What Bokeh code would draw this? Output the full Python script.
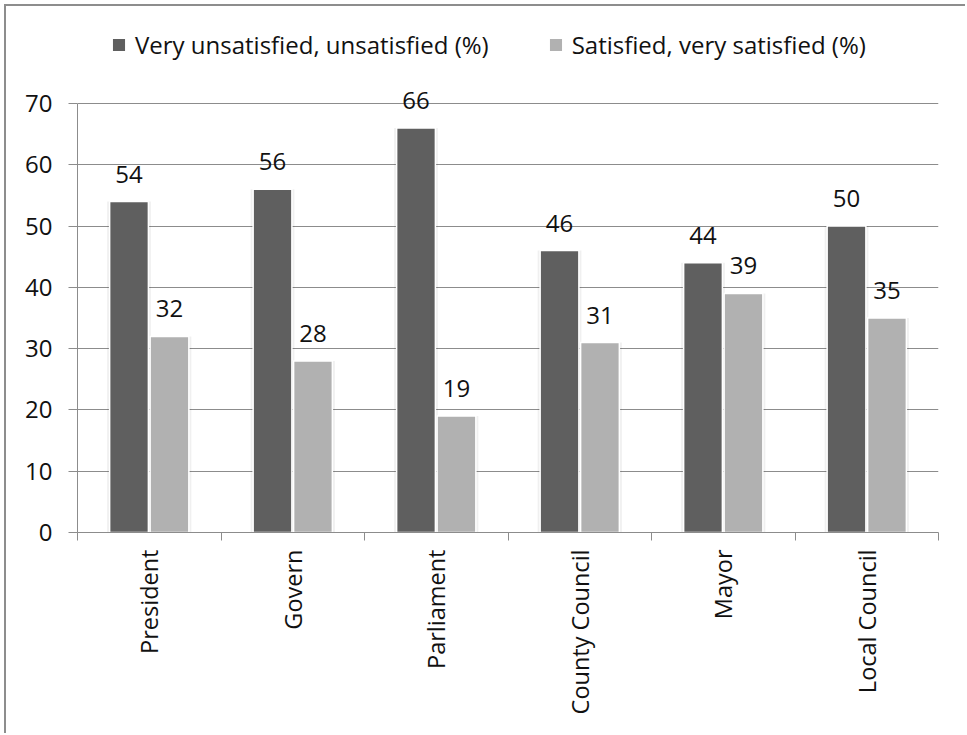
import numpy as np
from bokeh.plotting import figure
from bokeh.models import (ColumnDataSource, Range1d, FixedTicker, LabelSet,
                          Legend, LegendItem)
from bokeh.core.properties import value
from bokeh.transform import dodge
from bokeh.embed import file_html
from bokeh.resources import INLINE

# Satisfaction with public institutions
categories = ["President", "Govern", "Parliament", "County Council", "Mayor", "Local Council"]
unsatisfied = [54, 56, 66, 46, 44, 50]
satisfied = [32, 28, 19, 31, 39, 35]
series_names = ["Very unsatisfied, unsatisfied (%)", "Satisfied, very satisfied (%)"]
y_ticks = [0, 10, 20, 30, 40, 50, 60, 70]

DARK = "#5f5f5f"
LIGHT = "#b1b1b1"
GRID = "#8c8c8c"
FONT = "Open Sans"

centers = np.arange(len(categories)) + 0.5
source = ColumnDataSource(dict(
    x=centers,
    unsat=unsatisfied,
    sat=satisfied,
    unsat_txt=[str(v) for v in unsatisfied],
    sat_txt=[str(v) for v in satisfied],
))

p = figure(width=961, height=729, output_backend="svg", toolbar_location=None,
           x_range=Range1d(0, len(categories)), y_range=Range1d(0, 85.83),
           min_border_left=71, min_border_right=29, min_border_top=0,
           min_border_bottom=203)
p.margin = (4, 0, 0, 4)
p.styles = {"border-left": "2px solid #8d8d8d", "border-top": "2px solid #8d8d8d"}
p.outline_line_color = None
p.background_fill_color = "white"

bw = 0.27
off = 0.141

# soft halo behind each bar
for key, o in (("unsat", -off), ("sat", off)):
    p.vbar(x=dodge("x", o, range=p.x_range), top=key, width=bw + 0.035, bottom=0,
           source=source, fill_color="black", fill_alpha=0.06, line_color=None)

r1 = p.vbar(x=dodge("x", -off, range=p.x_range), top="unsat", width=bw, bottom=0,
            source=source, fill_color=DARK, line_color="white", line_width=1.5)
r2 = p.vbar(x=dodge("x", off, range=p.x_range), top="sat", width=bw, bottom=0,
            source=source, fill_color=LIGHT, line_color="white", line_width=1.5)

for key, txt, o in (("unsat", "unsat_txt", -off), ("sat", "sat_txt", off)):
    p.add_layout(LabelSet(x=dodge("x", o, range=p.x_range), y=key, text=txt,
                          source=source, y_offset=19, text_align="center",
                          text_baseline="alphabetic", text_font=value(FONT),
                          text_font_size=value("24px"), text_color="#111111"))

# y axis and grid
p.yaxis.ticker = FixedTicker(ticks=y_ticks)
p.yaxis.bounds = (0, 70)
p.yaxis.axis_line_color = GRID
p.yaxis.major_tick_line_color = GRID
p.yaxis.major_tick_out = 9
p.yaxis.major_tick_in = 0
p.yaxis.minor_tick_line_color = None
p.yaxis.major_label_standoff = 16
p.yaxis.major_label_text_font = FONT
p.yaxis.major_label_text_font_size = "24px"
p.yaxis.major_label_text_color = "#111111"
p.ygrid.ticker = FixedTicker(ticks=y_ticks)
p.ygrid.grid_line_color = GRID
p.xgrid.grid_line_color = None

# x axis: labels at category centres, ticks at boundaries
p.xaxis.ticker = FixedTicker(ticks=list(centers),
                             minor_ticks=list(range(len(categories) + 1)))
p.xaxis.major_label_overrides = {float(c): name for c, name in zip(centers, categories)}
p.xaxis.major_label_orientation = np.pi / 2
p.xaxis.axis_line_color = GRID
p.xaxis.major_tick_line_color = None
p.xaxis.major_tick_out = 0
p.xaxis.major_tick_in = 0
p.xaxis.minor_tick_line_color = GRID
p.xaxis.minor_tick_out = 8
p.xaxis.minor_tick_in = 0
p.xaxis.major_label_standoff = 9
p.xaxis.major_label_text_font = FONT
p.xaxis.major_label_text_font_size = "23.5px"
p.xaxis.major_label_text_color = "#111111"

legend = Legend(items=[LegendItem(label=series_names[0], renderers=[r1]),
                       LegendItem(label=series_names[1], renderers=[r2])],
                orientation="horizontal", location=(33, 471),
                padding=0, margin=0, spacing=58, label_standoff=8,
                glyph_width=17, glyph_height=17,
                label_text_font=FONT, label_text_font_size="24px",
                label_text_color="#111111", border_line_color=None,
                background_fill_alpha=0)
p.add_layout(legend, "center")

open("out.html", "w").write(file_html(p, INLINE))
